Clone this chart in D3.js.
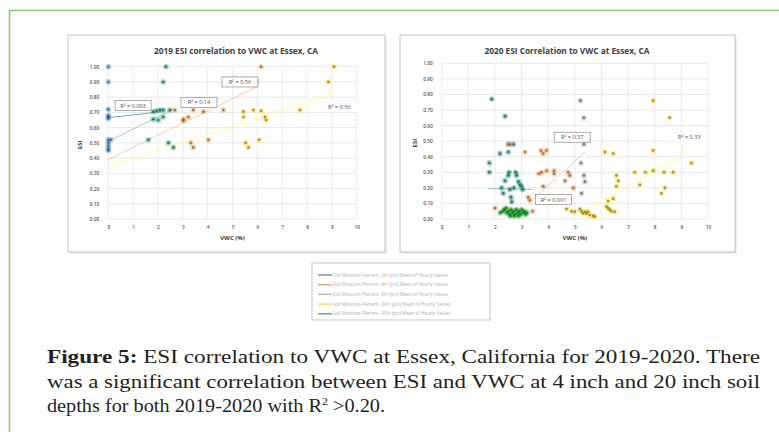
<!DOCTYPE html>
<html>
<head>
<meta charset="utf-8">
<script src="https://cdn.jsdelivr.net/npm/d3@7"></script>
<style>
  body { margin: 0; background: #fff; }
  svg { display: block; }
</style>
</head>
<body>
<div id="chart"></div>
<script>
// ---- data ----
var xTicks = [0, 1, 2, 3, 4, 5, 6, 7, 8, 9, 10];
var yTicks = [0, 0.1, 0.2, 0.3, 0.4, 0.5, 0.6, 0.7, 0.8, 0.9, 1.0];

var seriesNames = [
  "Soil Moisture Percent -2in (pct) Mean of Hourly Values",
  "Soil Moisture Percent -4in (pct) Mean of Hourly Values",
  "Soil Moisture Percent -8in (pct) Mean of Hourly Values",
  "Soil Moisture Percent -20in (pct) Mean of Hourly Values",
  "Soil Moisture Percent -40in (pct) Mean of Hourly Values"
];
var seriesColors = ["#6f8398", "#d6a276", "#b4b4b4", "#efd85a", "#4fa05a"];

// 2019 chart: [VWC, ESI]
var p2019_2in = [[0, 1.00], [0, 0.90], [0, 0.72], [0, 0.68], [0, 0.67], [0, 0.66],
  [0, 0.52], [0, 0.50], [0, 0.48], [0, 0.46], [0, 0.45], [0.1, 0.52]];
var p2019_40in = [[2.32, 1.00], [2.21, 0.90], [1.81, 0.705], [1.95, 0.71], [2.08, 0.715],
  [2.21, 0.715], [1.81, 0.655], [2.01, 0.65], [2.21, 0.67], [2.48, 0.715],
  [1.61, 0.52], [2.42, 0.50], [2.62, 0.47]];
var p2019_4in = [[2.68, 0.715], [3.02, 0.655], [3.02, 0.645], [3.22, 0.67], [3.42, 0.715],
  [3.83, 0.705], [4.63, 0.715], [3.32, 0.50], [3.42, 0.47], [4.03, 0.52],
  [5.97, 0.90], [6.15, 1.00]];
var p2019_20in = [[5.44, 0.705], [5.44, 0.67], [5.84, 0.715], [6.15, 0.71], [6.35, 0.65],
  [6.31, 0.67], [5.53, 0.50], [5.64, 0.47], [6.07, 0.52], [7.72, 0.715],
  [8.86, 0.90], [9.09, 1.00]];

// 2020 chart
var p2020_teal = [[1.88, 0.77], [2.38, 0.66], [1.79, 0.36], [1.79, 0.30], [2.19, 0.42],
  [2.5, 0.43], [2.5, 0.48], [2.69, 0.48], [2.25, 0.20], [2.31, 0.165], [2.38, 0.246],
  [2.5, 0.28], [2.53, 0.30], [2.56, 0.19], [2.6, 0.14], [2.63, 0.11], [2.71, 0.20],
  [2.78, 0.30], [2.81, 0.28], [2.88, 0.24], [2.94, 0.22], [3.0, 0.21], [3.04, 0.19]];
var p2020_40in = [[2.2, 0.04], [2.3, 0.05], [2.35, 0.06], [2.42, 0.07], [2.45, 0.04],
  [2.5, 0.05], [2.55, 0.03], [2.6, 0.06], [2.65, 0.04], [2.7, 0.05], [2.75, 0.03],
  [2.8, 0.06], [2.85, 0.04], [2.9, 0.05], [2.95, 0.03], [3.0, 0.06], [3.05, 0.04],
  [3.1, 0.05], [3.15, 0.03], [3.2, 0.04], [2.58, 0.02], [2.72, 0.02], [2.88, 0.02]];
var p2020_4in = [[2.0, 0.07], [2.56, 0.48], [3.13, 0.43], [3.25, 0.14], [3.31, 0.12],
  [3.41, 0.05], [3.73, 0.44], [3.81, 0.42], [3.94, 0.44], [3.65, 0.29], [3.75, 0.30],
  [3.94, 0.31], [4.22, 0.31], [4.22, 0.29], [3.81, 0.21], [4.63, 0.245], [4.75, 0.30],
  [4.81, 0.28], [4.94, 0.20]];
var p2020_8in = [[5.21, 0.76], [5.34, 0.65], [5.34, 0.48], [5.23, 0.36], [5.34, 0.28],
  [5.38, 0.24], [5.25, 0.165]];
var p2020_20in = [[4.69, 0.064], [4.88, 0.05], [5.0, 0.047], [5.19, 0.064], [5.25, 0.05],
  [5.38, 0.047], [5.44, 0.036], [5.56, 0.026], [5.69, 0.02], [5.75, 0.015], [5.31, 0.036],
  [5.5, 0.047], [6.13, 0.43], [6.44, 0.42], [6.56, 0.28], [6.63, 0.245], [6.56, 0.21],
  [6.44, 0.13], [6.25, 0.115], [6.25, 0.07], [6.31, 0.06], [6.38, 0.05], [6.5, 0.047],
  [6.19, 0.08], [7.25, 0.30], [7.44, 0.22], [7.65, 0.30], [7.94, 0.31], [7.94, 0.44],
  [7.94, 0.76], [8.56, 0.65], [8.35, 0.30], [8.38, 0.20], [8.25, 0.165], [8.69, 0.30],
  [9.38, 0.36]];

// trend lines: [x0, y0, x1, y1], R² text, label anchor [x, y]
var trend2019 = [[0, 0.665, 2.15, 0.705], [0, 0.51, 2.6, 0.72], [0, 0.39, 6.0, 0.87], [0, 0.345, 9.0, 0.82]];
var r2019 = ["R² = 0.003", "R² = 0.14", "R² = 0.56", "R² = 0.56"];
var r2019At = [[1.0, 0.745], [3.65, 0.765], [5.3, 0.9], [9.3, 0.735]];
var trend2020 = [[1.75, 0.195, 3.4, 0.19], [3.44, 0.13, 5.38, 0.43], [5.06, 0.015, 9.31, 0.44]];
var r2020 = ["R² = 0.001", "R² = 0.37", "R² = 0.33"];
var r2020At = [[4.2, 0.125], [4.9, 0.525], [9.3, 0.525]];

var caption = [
  ["Figure 5:", " ESI correlation to VWC at Essex, California for 2019-2020. There"],
  ["", "was a significant correlation between ESI and VWC at 4 inch and 20 inch soil"],
  ["", "depths for both 2019-2020 with R"]
];

// ---- drawing ----
var width = 779, height = 432;
var svg = d3.select("#chart").append("svg")
  .attr("width", width).attr("height", height)
  .style("background", "#fff");

// green frame on top and left
svg.append("path")
  .attr("d", "M9.5,432 L9.5,10.5 L779,10.5")
  .attr("fill", "none").attr("stroke", "#86c66c").attr("stroke-width", 1.5);

function drawChart(cfg) {
  var g = svg.append("g");
  g.append("rect")
    .attr("x", cfg.box[0] + 1.5).attr("y", cfg.box[1] + 1.5)
    .attr("width", cfg.box[2]).attr("height", cfg.box[3])
    .attr("fill", "#e4e4e4");
  g.append("rect")
    .attr("x", cfg.box[0]).attr("y", cfg.box[1])
    .attr("width", cfg.box[2]).attr("height", cfg.box[3])
    .attr("fill", "#fff").attr("stroke", "#c4c4c4").attr("stroke-width", 1);

  var x = d3.scaleLinear().domain([0, 10]).range(cfg.xr);
  var y = d3.scaleLinear().domain([0, 1]).range(cfg.yr);

  // gridlines
  g.append("g").selectAll("line").data(yTicks).enter().append("line")
    .attr("x1", cfg.xr[0]).attr("x2", cfg.xr[1])
    .attr("y1", function(d) { return y(d); }).attr("y2", function(d) { return y(d); })
    .attr("stroke", "#e2e2e2").attr("stroke-width", 0.8);
  g.append("g").selectAll("line").data(xTicks).enter().append("line")
    .attr("y1", cfg.yr[0]).attr("y2", cfg.yr[1])
    .attr("x1", function(d) { return x(d); }).attr("x2", function(d) { return x(d); })
    .attr("stroke", "#e6e6e6").attr("stroke-width", 0.8);

  // axes (labels only)
  var ya = g.append("g").attr("transform", "translate(" + cfg.xr[0] + ",0)")
    .call(d3.axisLeft(y).tickValues(yTicks).tickFormat(d3.format(".2f")).tickSize(0).tickPadding(9));
  var xa = g.append("g").attr("transform", "translate(0," + cfg.yr[0] + ")")
    .call(d3.axisBottom(x).tickValues(xTicks).tickSize(0).tickPadding(7));
  [ya, xa].forEach(function(a) {
    a.select(".domain").remove();
    a.selectAll("text").attr("font-family", "Open Sans, sans-serif")
      .attr("font-size", 4.8).attr("fill", "#555").attr("font-weight", 600);
  });

  // title and axis titles
  g.append("text").attr("x", cfg.titleX).attr("y", 54)
    .attr("text-anchor", "middle").attr("font-family", "Open Sans, sans-serif")
    .attr("font-size", 8.3).attr("font-weight", 700).attr("fill", "#404040")
    .text(cfg.title);
  g.append("text").attr("x", (cfg.xr[0] + cfg.xr[1]) / 2).attr("y", 240)
    .attr("text-anchor", "middle").attr("font-family", "Open Sans, sans-serif")
    .attr("font-size", 6).attr("font-weight", 700).attr("fill", "#404040")
    .text("VWC (%)");
  g.append("text")
    .attr("transform", "translate(" + cfg.yLabelX + "," + (y(0.5) + 2) + ") rotate(-90)")
    .attr("text-anchor", "middle").attr("font-family", "Open Sans, sans-serif")
    .attr("font-size", 6).attr("font-weight", 700).attr("fill", "#404040")
    .text("ESI");

  // trend lines
  cfg.trends.forEach(function(t, i) {
    g.append("line")
      .attr("x1", x(t[0])).attr("y1", y(t[1])).attr("x2", x(t[2])).attr("y2", y(t[3]))
      .attr("stroke", d3.color(cfg.trendColors[i]).brighter(0.4))
      .attr("stroke-width", 1).attr("opacity", 0.8);
  });

  // points: coloured halo with a dark centre
  cfg.series.forEach(function(s) {
    var sg = g.append("g");
    sg.selectAll("circle.h").data(s.pts).enter().append("circle")
      .attr("class", "h")
      .attr("cx", function(d) { return x(d[0]); }).attr("cy", function(d) { return y(d[1]); })
      .attr("r", 2.9).attr("fill", s.color).attr("opacity", 0.45);
    sg.selectAll("circle.c").data(s.pts).enter().append("circle")
      .attr("class", "c")
      .attr("cx", function(d) { return x(d[0]); }).attr("cy", function(d) { return y(d[1]); })
      .attr("r", 1.3).attr("fill", d3.color(s.color).darker(1.6)).attr("opacity", 0.8);
  });

  // R² labels
  cfg.labels.forEach(function(lb, i) {
    var cx = x(cfg.labelAt[i][0]), cy = y(cfg.labelAt[i][1]);
    var w = 36, h = 10;
    g.append("rect").attr("x", cx - w / 2).attr("y", cy - h / 2)
      .attr("width", w).attr("height", h)
      .attr("fill", "#fff").attr("fill-opacity", 0.85)
      .attr("stroke", cfg.labelBorder[i] ? "#8a8a8a" : "none").attr("stroke-width", 0.7);
    g.append("text").attr("x", cx).attr("y", cy + 2)
      .attr("text-anchor", "middle").attr("font-family", "Open Sans, sans-serif")
      .attr("font-size", 5.6).attr("fill", "#505050")
      .text(lb);
  });
}

drawChart({
  box: [68, 35, 317, 217],
  xr: [108.3, 356.7], yr: [219, 66.7],
  title: "2019 ESI correlation to VWC at Essex, CA", titleX: 236, yLabelX: 82,
  series: [
    { pts: p2019_2in, color: "#5b9bd5" },
    { pts: p2019_40in, color: "#2fa876" },
    { pts: p2019_4in, color: "#f0a060" },
    { pts: p2019_20in, color: "#f5d430" }
  ],
  trends: trend2019,
  trendColors: ["#4a7fb0", "#8aa0b0", "#f0a870", "#f5dc70"],
  labels: r2019, labelAt: r2019At, labelBorder: [true, true, true, false]
});

drawChart({
  box: [400, 35, 335, 217],
  xr: [441.7, 708], yr: [219, 63.3],
  title: "2020 ESI Correlation to VWC at Essex, CA", titleX: 567, yLabelX: 417,
  series: [
    { pts: p2020_teal, color: "#2f9a86" },
    { pts: p2020_4in, color: "#f0a060" },
    { pts: p2020_8in, color: "#a8a8a8" },
    { pts: p2020_20in, color: "#f5d430" },
    { pts: p2020_40in, color: "#25b030" }
  ],
  trends: trend2020,
  trendColors: ["#6aa0a0", "#b0b0b0", "#f5dc70"],
  labels: r2020, labelAt: r2020At, labelBorder: [true, true, false]
});

// legend box
var lg = svg.append("g");
lg.append("rect").attr("x", 312).attr("y", 263).attr("width", 178).attr("height", 57)
  .attr("fill", "#fff").attr("stroke", "#b8b8b8").attr("stroke-width", 0.8);
seriesNames.forEach(function(n, i) {
  var yy = 275 + i * 9.7;
  lg.append("line").attr("x1", 318).attr("x2", 332).attr("y1", yy).attr("y2", yy)
    .attr("stroke", seriesColors[i]).attr("stroke-width", 1.3);
  lg.append("text").attr("x", 333).attr("y", yy + 1.6)
    .attr("font-family", "Open Sans, sans-serif").attr("font-size", 4.6)
    .attr("fill", "#b0b0b0").text(n);
});

// caption (glyphs stretched to the width of the original old-style face)
var lineY = [363, 388, 412];
var lineW = [713, 713, 338];
var capX = 47;
caption.forEach(function(c, i) {
  var t = svg.append("text").attr("x", capX).attr("y", lineY[i])
    .attr("font-family", "Liberation Serif, serif").attr("font-size", 18.5).attr("fill", "#231f20")
    .attr("textLength", lineW[i]).attr("lengthAdjust", "spacingAndGlyphs");
  if (c[0]) t.append("tspan").attr("font-weight", 700).text(c[0]);
  t.append("tspan").text(c[1]);
  if (i == 2) {
    t.append("tspan").attr("font-size", 11).attr("dy", -7).text("2");
    t.append("tspan").attr("dy", 7).text(" >0.20.");
  }
});
</script>
</body>
</html>
